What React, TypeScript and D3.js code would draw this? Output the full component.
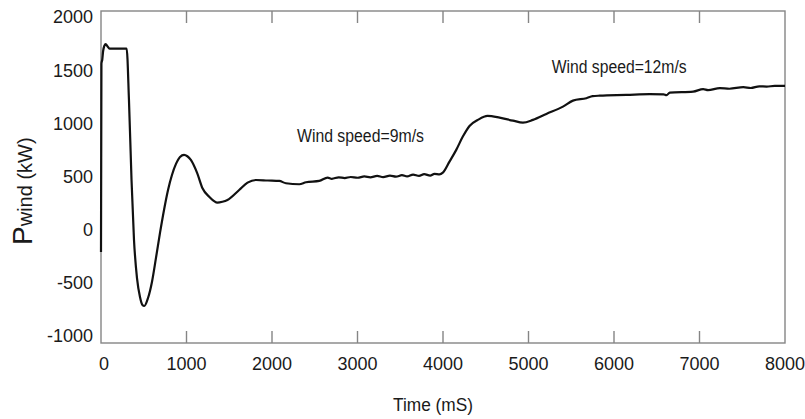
import React, { useEffect, useRef } from 'react'
import * as d3 from 'd3'

// time in mS
const timeMs = [
  0, 5, 15, 25, 40, 55, 75, 100, 300, 327, 357, 386, 421, 456, 485, 506, 550, 596, 643, 690,
  737, 784, 830, 877, 924, 971, 1010, 1051, 1124, 1187, 1265, 1362, 1420, 1479, 1616, 1714,
  1812, 1950, 2085, 2163, 2319, 2398, 2553, 2651, 2700, 2780, 2850, 2920, 3000, 3080, 3150,
  3230, 3300, 3380, 3450, 3520, 3580, 3650, 3720, 3780, 3850, 3900, 3959, 3998, 4076, 4155,
  4232, 4310, 4408, 4521, 4662, 4818, 4935, 5052, 5209, 5403, 5520, 5677, 5750, 5833, 6145,
  6418, 6580, 6614, 6653, 6926, 7043, 7100, 7238, 7350, 7512, 7600, 7700, 7785, 7880, 8000
]

// wind power in kW
const pWind = [
  -210, 1560, 1600, 1680, 1730, 1745, 1725, 1702, 1702, 1220, 467, -97, -455, -633, -709, -718,
  -643, -492, -266, -31, 185, 373, 514, 618, 684, 703, 690, 655, 533, 389, 310, 254, 262, 279,
  373, 442, 467, 462, 458, 436, 427, 446, 458, 489, 478, 492, 485, 495, 488, 500, 492, 505,
  494, 508, 498, 512, 500, 518, 505, 522, 508, 525, 520, 536, 640, 750, 875, 975, 1032, 1069,
  1053, 1025, 1006, 1032, 1088, 1157, 1213, 1236, 1255, 1260, 1267, 1274, 1272, 1264, 1289,
  1298, 1321, 1312, 1330, 1325, 1340, 1332, 1348, 1345, 1352, 1352
]

const xTicks = [0, 1000, 2000, 3000, 4000, 5000, 6000, 7000, 8000]
const yTicks = [-1000, -500, 0, 500, 1000, 1500, 2000]

const annotations = [
  { text: 'Wind speed=9m/s', t: 2292, v: 828, len: 127 },
  { text: 'Wind speed=12m/s', t: 5271, v: 1471, len: 135 }
]

const App = () => {
  const ref = useRef<SVGSVGElement>(null)

  const width = 805
  const height = 419
  const left = 101, right = 785, top = 11, bottom = 343

  useEffect(() => {
    const svg = d3.select(ref.current)
    svg.selectAll('*').remove()

    const xScale = d3.scaleLinear().domain([0, 8000]).range([left, right])
    const yScale = d3.scaleLinear().domain([-1066, 2056]).range([bottom, top])

    const font = "'Liberation Sans', Arial, Helvetica, sans-serif"
    const axisColor = '#858585'
    const textColor = '#1a1a1a'

    // frame
    svg.append('rect')
      .attr('x', left).attr('y', top)
      .attr('width', right - left).attr('height', bottom - top)
      .attr('fill', 'none')
      .attr('stroke', axisColor)
      .attr('stroke-width', 1.4)

    // inward ticks, top and bottom
    const inner = xTicks.filter(t => t > 0 && t < 8000)
    svg.append('g').selectAll('line')
      .data(inner)
      .join('line')
      .attr('x1', d => xScale(d)).attr('x2', d => xScale(d))
      .attr('y1', bottom).attr('y2', bottom - 12)
      .attr('stroke', axisColor).attr('stroke-width', 1.4)
    svg.append('g').selectAll('line')
      .data(inner)
      .join('line')
      .attr('x1', d => xScale(d)).attr('x2', d => xScale(d))
      .attr('y1', top).attr('y2', top + 12)
      .attr('stroke', axisColor).attr('stroke-width', 1.4)

    // x labels
    svg.append('g').selectAll('text')
      .data(xTicks)
      .join('text')
      .attr('x', d => xScale(d) + (d === 0 ? 3 : 0))
      .attr('y', 369.5)
      .attr('text-anchor', 'middle')
      .attr('font-family', font)
      .attr('font-size', 18)
      .attr('fill', textColor)
      .text(d => d)

    // y labels
    svg.append('g').selectAll('text')
      .data(yTicks)
      .join('text')
      .attr('x', 93)
      .attr('y', d => yScale(d))
      .attr('dy', '0.36em')
      .attr('text-anchor', 'end')
      .attr('font-family', font)
      .attr('font-size', 18)
      .attr('fill', textColor)
      .text(d => d)

    // axis titles
    svg.append('text')
      .attr('x', 433).attr('y', 411)
      .attr('text-anchor', 'middle')
      .attr('font-family', font)
      .attr('font-size', 18)
      .attr('textLength', 80)
      .attr('lengthAdjust', 'spacingAndGlyphs')
      .attr('fill', textColor)
      .text('Time (mS)')

    const yTitle = svg.append('text')
      .attr('transform', 'translate(32,245) rotate(-90)')
      .attr('font-family', font)
      .attr('fill', textColor)
    yTitle.append('tspan').attr('font-size', 28).text('P')
    yTitle.append('tspan').attr('font-size', 20).text('wind (kW)')

    // annotations
    svg.append('g').selectAll('text')
      .data(annotations)
      .join('text')
      .attr('x', d => xScale(d.t))
      .attr('y', d => yScale(d.v))
      .attr('font-family', font)
      .attr('font-size', 18)
      .attr('textLength', d => d.len)
      .attr('lengthAdjust', 'spacingAndGlyphs')
      .attr('fill', textColor)
      .text(d => d.text)

    // power curve
    const pts = timeMs.map((t, i) => [t, pWind[i]] as [number, number])
    const line = d3.line<[number, number]>()
      .x(d => xScale(d[0]))
      .y(d => yScale(d[1]))
      .curve(d3.curveMonotoneX)

    svg.append('path')
      .datum(pts)
      .attr('d', line)
      .attr('fill', 'none')
      .attr('stroke', '#111')
      .attr('stroke-width', 2.2)
      .attr('stroke-linejoin', 'round')
  }, [])

  return (
    <div>
      <svg ref={ref} width={width} height={height}
        style={{ position: 'absolute', left: 0, top: 0, background: '#fff' }}>
      </svg>
    </div>
  )
}

export default App
